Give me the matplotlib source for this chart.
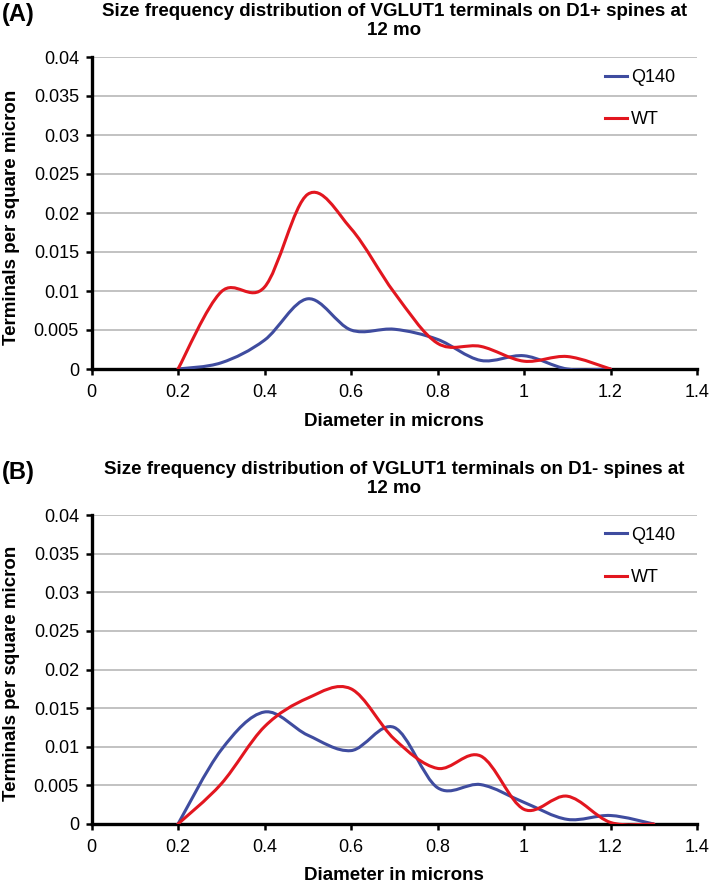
import numpy as np
import matplotlib
matplotlib.use("Agg")
import matplotlib.pyplot as plt
from matplotlib.path import Path
from matplotlib.patches import PathPatch
from matplotlib.lines import Line2D
from matplotlib.ticker import FuncFormatter

plt.rcParams['font.family'] = ['Liberation Sans', 'DejaVu Sans']

# panel A: D1+ spines
diam_a = [0.2, 0.3, 0.4, 0.5, 0.6, 0.7, 0.8, 0.9, 1.0, 1.1, 1.2]
q140_a = [0, 0.0008, 0.0037, 0.0090, 0.0050, 0.0051, 0.0038, 0.0011, 0.0017, 0.0, 0.0]
wt_a = [0, 0.0099, 0.0105, 0.0224, 0.0180, 0.0098, 0.0033, 0.0029, 0.0010, 0.0016, 0.0]

# panel B: D1- spines
diam_b = [0.2, 0.3, 0.4, 0.5, 0.6, 0.7, 0.8, 0.9, 1.0, 1.1, 1.2, 1.3]
q140_b = [0, 0.0096, 0.0145, 0.0115, 0.0095, 0.0125, 0.0047, 0.0051, 0.0028, 0.0006, 0.0011, 0.0]
wt_b = [0, 0.0052, 0.0126, 0.0163, 0.0175, 0.0110, 0.0072, 0.0088, 0.0019, 0.0036, 0.0002, 0.0]

BLUE = '#3f4c9f'
RED = '#e2161f'
W, H = 709, 883


def smooth_path(x, y):
    # excel-style smoothed line: cubic bezier through the points
    p = np.column_stack([x, y])
    n = len(p)
    verts = [p[0]]
    codes = [Path.MOVETO]
    for i in range(n - 1):
        prev = p[i - 1] if i > 0 else p[i]
        nxt = p[i + 2] if i + 2 < n else p[i + 1]
        c1 = p[i] + (p[i + 1] - prev) / 6
        c2 = p[i + 1] - (nxt - p[i]) / 6
        verts += [c1, c2, p[i + 1]]
        codes += [Path.CURVE4] * 3
    return Path(verts, codes)


def panel(ax, x, q, w, title, tag, top_px, bot_px):
    for ys, col in [(q, BLUE), (w, RED)]:
        ax.add_patch(PathPatch(smooth_path(x, ys), fill=False, edgecolor=col,
                               lw=2.2, capstyle='round', zorder=3))
    ax.set_xlim(0, 1.4)
    ax.set_ylim(0, 0.04)
    ax.set_xticks(np.arange(0, 1.41, 0.2))
    ax.set_yticks(np.arange(0, 0.0401, 0.005))
    ax.xaxis.set_major_formatter(FuncFormatter(lambda v, _: f'{round(v, 2):g}'))
    ax.yaxis.set_major_formatter(FuncFormatter(lambda v, _: f'{round(v, 4):g}'))
    ax.grid(axis='y', color='#bdbdbd', lw=1.3)
    ax.set_axisbelow(True)
    for s in ['top', 'right']:
        ax.spines[s].set_visible(False)
    for s in ['left', 'bottom']:
        ax.spines[s].set_linewidth(2.4)
    ax.tick_params(direction='out', length=4, width=1.8, labelsize=13)
    ax.tick_params(axis='y', pad=5)
    ax.tick_params(axis='x', pad=7)

    xc = (91.5 + 697) / 2 / W
    mid = (top_px + bot_px) / 2 + 4
    fig.text(xc, 1 - (top_px - 36) / H, title, ha='center', va='center',
             fontsize=13.5, fontweight='bold', linespacing=1.15)
    fig.text(2 / W, 1 - (top_px - 42) / H, tag, ha='left', va='center',
             fontsize=17, fontweight='bold')
    fig.text(12 / W, 1 - mid / H, 'Terminals per square micron', rotation=90,
             ha='center', va='center', fontsize=13.5, fontweight='bold')
    fig.text(xc, 1 - (bot_px + 52) / H, 'Diameter in microns', ha='center',
             va='center', fontsize=13.5, fontweight='bold')

    handles = [Line2D([], [], color=BLUE, lw=2.2), Line2D([], [], color=RED, lw=2.2)]
    ax.legend(handles, ['Q140', 'WT'], loc='upper left', frameon=False, fontsize=13,
              handlelength=1.2, handletextpad=0.25, labelspacing=1.42,
              borderpad=0, borderaxespad=0, bbox_to_anchor=(0.848, 0.962))


fig = plt.figure(figsize=(W / 100, H / 100), dpi=100)
a_top, a_bot = 57, 369
b_top, b_bot = 515, 824
ax1 = fig.add_axes([91.5 / W, 1 - a_bot / H, 605.5 / W, (a_bot - a_top) / H])
ax2 = fig.add_axes([91.5 / W, 1 - b_bot / H, 605.5 / W, (b_bot - b_top) / H])

panel(ax1, diam_a, q140_a, wt_a,
      'Size frequency distribution of VGLUT1 terminals on D1+ spines at\n12 mo', '(A)',
      a_top, a_bot)
panel(ax2, diam_b, q140_b, wt_b,
      'Size frequency distribution of VGLUT1 terminals on D1- spines at\n12 mo', '(B)',
      b_top, b_bot)

fig.savefig('out.png', dpi=100)
